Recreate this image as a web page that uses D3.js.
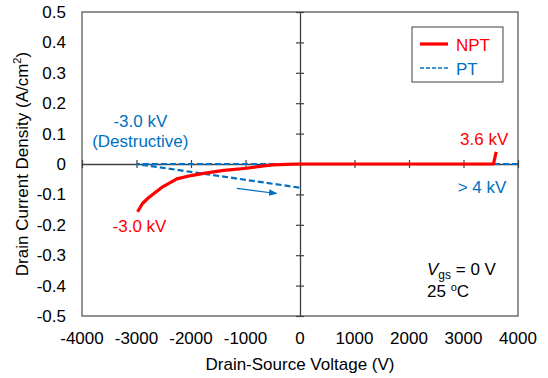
<!DOCTYPE html>
<html>
<head>
<meta charset="utf-8">
<script src="https://cdn.jsdelivr.net/npm/d3@7"></script>
<style>
  body { margin: 0; background: #fff; }
  text { font-family: "Liberation Sans", Arial, sans-serif; }
</style>
</head>
<body>
<div id="chart"></div>
<script>
// Data (voltage in V, current density in A/cm2)
const nptV = [-2980, -2890, -2780, -2520, -2260, -2000, -1770, -1400, -980, -700, -500, -250, 0, 1000, 2000, 3000, 3550, 3600];
const nptI = [-0.157, -0.13, -0.111, -0.075, -0.049, -0.038, -0.031, -0.021, -0.014, -0.007, -0.003, -0.001, 0, 0, 0, 0, 0, 0.04];
const ptV = [4000, 0, -3000, 0];
const ptI = [0, 0, 0, -0.078];
const arrowV = [-1160, -430];
const arrowI = [-0.080, -0.097];
const xTicks = [-4000, -3000, -2000, -1000, 0, 1000, 2000, 3000, 4000];
const yTicks = [0.5, 0.4, 0.3, 0.2, 0.1, 0, -0.1, -0.2, -0.3, -0.4, -0.5];

const width = 548, height = 378;
const margin = { top: 12, right: 30, bottom: 62, left: 82 };
const red = "#ff0000", blue = "#0070c0";

const svg = d3.select("#chart").append("svg")
    .attr("width", width)
    .attr("height", height);

const x = d3.scaleLinear().domain([-4000, 4000]).range([margin.left, width - margin.right]);
const y = d3.scaleLinear().domain([-0.5, 0.5]).range([height - margin.bottom, margin.top]);

// arrow marker
svg.append("defs").append("marker")
    .attr("id", "arrow")
    .attr("viewBox", "0 0 10 10")
    .attr("refX", 9).attr("refY", 5)
    .attr("markerWidth", 7).attr("markerHeight", 7)
    .attr("orient", "auto")
    .append("path")
    .attr("d", "M0,1 L10,5 L0,9 Z")
    .attr("fill", blue);

// plot frame
svg.append("rect")
    .attr("x", x(-4000)).attr("y", y(0.5))
    .attr("width", x(4000) - x(-4000))
    .attr("height", y(-0.5) - y(0.5))
    .attr("fill", "none")
    .attr("stroke", "#595959")
    .attr("stroke-width", 1.3);

// zero axes with crossing ticks
const xAxis = d3.axisBottom(x).tickValues(xTicks).tickSizeInner(4).tickSizeOuter(0).tickFormat("");
const gx = svg.append("g").attr("transform", `translate(0,${y(0)})`).call(xAxis);
gx.selectAll(".tick line").attr("y1", -4).attr("y2", 4);
const yAxis = d3.axisLeft(y).tickValues(yTicks).tickSizeInner(4).tickSizeOuter(0).tickFormat("");
const gy = svg.append("g").attr("transform", `translate(${x(0)},0)`).call(yAxis);
gy.selectAll(".tick line").attr("x1", -4).attr("x2", 4);
svg.selectAll(".domain").attr("stroke", "#404040").attr("stroke-width", 1.3);
svg.selectAll(".tick line").attr("stroke", "#404040").attr("stroke-width", 1.2);

// tick labels
svg.append("g").selectAll("text").data(xTicks).join("text")
    .attr("x", d => x(d))
    .attr("y", y(-0.5) + 28)
    .attr("text-anchor", "middle")
    .attr("font-size", 17)
    .text(d => d);
svg.append("g").selectAll("text").data(yTicks).join("text")
    .attr("x", margin.left - 16)
    .attr("y", d => y(d) + 6)
    .attr("text-anchor", "end")
    .attr("font-size", 17)
    .text(d => d);

// axis titles
svg.append("text")
    .attr("x", x(0))
    .attr("y", 370)
    .attr("text-anchor", "middle")
    .attr("font-size", 17)
    .text("Drain-Source Voltage (V)");
svg.append("text")
    .attr("transform", `translate(28,${y(0)}) rotate(-90)`)
    .attr("text-anchor", "middle")
    .attr("font-size", 17)
    .html("Drain Current Density (A/cm<tspan dy='-7' font-size='11'>2</tspan><tspan dy='7'>)</tspan>");

// series
const line = d3.line().x(d => x(d[0])).y(d => y(d[1]));
svg.append("path")
    .datum(d3.zip(ptV, ptI))
    .attr("d", line)
    .attr("fill", "none")
    .attr("stroke", blue)
    .attr("stroke-width", 2.2)
    .attr("stroke-dasharray", "6,3");
svg.append("path")
    .datum(d3.zip(nptV, nptI))
    .attr("d", line)
    .attr("fill", "none")
    .attr("stroke", red)
    .attr("stroke-width", 3.2)
    .attr("stroke-linejoin", "round");
svg.append("path")
    .datum(d3.zip(arrowV, arrowI))
    .attr("d", line)
    .attr("fill", "none")
    .attr("stroke", blue)
    .attr("stroke-width", 1.2)
    .attr("marker-end", "url(#arrow)");

// annotations
function note(txt, vx, vy, color) {
    svg.append("text")
        .attr("x", x(vx)).attr("y", y(vy))
        .attr("text-anchor", "middle")
        .attr("font-size", 17)
        .attr("fill", color)
        .text(txt);
}
note("-3.0 kV", -2930, 0.122, blue);
note("(Destructive)", -2930, 0.056, blue);
note("-3.0 kV", -2945, -0.224, red);
note("3.6 kV", 3380, 0.062, red);
note("> 4 kV", 3340, -0.095, blue);

// legend
const lg = svg.append("g");
lg.append("rect")
    .attr("x", 412).attr("y", 27)
    .attr("width", 91).attr("height", 55)
    .attr("fill", "#fff")
    .attr("stroke", "#404040")
    .attr("stroke-width", 1);
lg.append("line").attr("x1", 420).attr("x2", 448).attr("y1", 44).attr("y2", 44)
    .attr("stroke", red).attr("stroke-width", 3.2);
lg.append("line").attr("x1", 420).attr("x2", 448).attr("y1", 68).attr("y2", 68)
    .attr("stroke", blue).attr("stroke-width", 1.6).attr("stroke-dasharray", "4,2");
lg.append("text").attr("x", 456).attr("y", 51).attr("font-size", 17).attr("fill", red).text("NPT");
lg.append("text").attr("x", 456).attr("y", 75).attr("font-size", 17).attr("fill", blue).text("PT");

// conditions
svg.append("text")
    .attr("x", 427).attr("y", 275)
    .attr("font-size", 17)
    .html("<tspan font-style='italic'>V</tspan><tspan dy='4' font-size='12'>gs</tspan><tspan dy='-4'> = 0 V</tspan>");
svg.append("text")
    .attr("x", 427).attr("y", 297)
    .attr("font-size", 17)
    .html("25 <tspan dy='-6' font-size='11'>o</tspan><tspan dy='6'>C</tspan>");
</script>
</body>
</html>
